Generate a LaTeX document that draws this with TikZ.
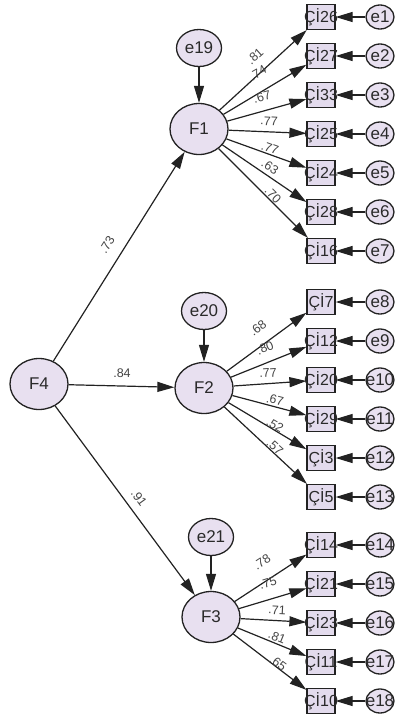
\documentclass[tikz,border=0pt]{standalone}
\usepackage{fontspec}
\setmainfont{Liberation Sans}
\usetikzlibrary{shapes.geometric,arrows.meta}
\definecolor{fillc}{HTML}{E8E0F0}
\definecolor{boxc}{HTML}{E3DBED}
\definecolor{linec}{HTML}{222222}
\definecolor{txtc}{HTML}{2A2A2A}
\definecolor{lblc}{HTML}{444444}
\begin{document}
\begin{tikzpicture}[x=1pt,y=-1pt,
  lat/.style={ellipse, draw=linec, line width=1.3pt, fill=fillc, minimum width=58pt, minimum height=51pt, inner sep=0pt, font=\fontsize{17}{17}\selectfont, text=txtc},
  errbig/.style={ellipse, draw=linec, line width=1.3pt, fill=fillc, minimum width=45pt, minimum height=37pt, inner sep=0pt, font=\fontsize{17}{17}\selectfont, text=txtc},
  err/.style={ellipse, draw=linec, line width=1.3pt, fill=fillc, minimum width=28pt, minimum height=24pt, inner sep=0pt, font=\fontsize{17}{17}\selectfont, text=txtc},
  obs/.style={rectangle, draw=linec, line width=1.2pt, fill=boxc, minimum width=28pt, minimum height=25pt, inner sep=0pt, font=\fontsize{16}{16}\selectfont, text=txtc},
  arr/.style={draw=linec, line width=1.2pt, -{Triangle[length=17pt,width=10pt]}},
  lbl/.style={font=\fontsize{12.5}{12.5}\selectfont, text=lblc, inner sep=0pt}
]
\useasboundingbox (0,0) rectangle (396,720);

% latent factors
\node[lat] (F4) at (39,384) {\makebox[0pt]{F4}};
\node[lat] (F1) at (199,129) {\makebox[0pt]{F1}};
\node[lat] (F2) at (204,388) {\makebox[0pt]{F2}};
\node[lat] (F3) at (211,617) {\makebox[0pt]{F3}};
\node[errbig] (e19) at (199,48) {\makebox[0pt]{e19}};
\node[errbig] (e20) at (204,311) {\makebox[0pt]{e20}};
\node[errbig] (e21) at (211,537) {\makebox[0pt]{e21}};

% observed items with their errors
\foreach \n/\y/\t in {1/17/Çİ26, 2/56/Çİ27, 3/95/Çİ33, 4/134/Çİ25, 5/173/Çİ24, 6/212/Çİ28, 7/251/Çİ16,
  8/302/Çİ7, 9/341/Çİ12, 10/380/Çİ20, 11/419/Çİ29, 12/458/Çİ3, 13/497/Çİ5,
  14/545/Çİ14, 15/584/Çİ21, 16/623/Çİ23, 17/662/Çİ11, 18/701/Çİ10}{
  \node[obs] (b\n) at (321,\y) {\makebox[0pt]{\t}};
  \node[err] (e\n) at (380,\y) {\makebox[0pt]{e\n}};
  \draw[arr] (e\n) -- (b\n);
}

% structural paths
\draw[arr] (e19) -- (F1);
\draw[arr] (e20) -- (F2);
\draw[arr] (e21) -- (F3);
\draw[arr] (F4) -- (F1);
\draw[arr] (F4) -- (F2);
\draw[arr] (F4) -- (F3);
\foreach \n in {1,...,7} \draw[arr] (F1) -- (b\n);
\foreach \n in {8,...,13} \draw[arr] (F2) -- (b\n);
\foreach \n in {14,...,18} \draw[arr] (F3) -- (b\n);

% loadings
\node[lbl, rotate=57.6] (l73) at (107,245) {.73};
\node[lbl] (l84) at (122,373) {.84};
\node[lbl, rotate=-54] (l91) at (139,498) {.91};
\foreach \k/\x/\y/\r/\t in {1/255/56/42/.81, 2/258/73/30/.74, 3/262/97/15/.67, 4/269/121/-3/.77, 5/270/148/-20/.77, 6/270/167/-34/.63, 7/273/195/-45/.70,
  8/258/328/37/.68, 9/265/348/22/.80, 10/268/373/4/.77, 11/275/400/-14/.67, 12/275/425/-30/.52, 13/275/447/-42/.57,
  14/262/562/33/.78, 15/268/583/17/.75, 16/277/610/-3/.71, 17/277/637/-22/.81, 18/278/663/-37/.65}{
  \node[lbl, rotate=\r] (l\k) at (\x,\y) {\t};
}
\end{tikzpicture}
\end{document}
